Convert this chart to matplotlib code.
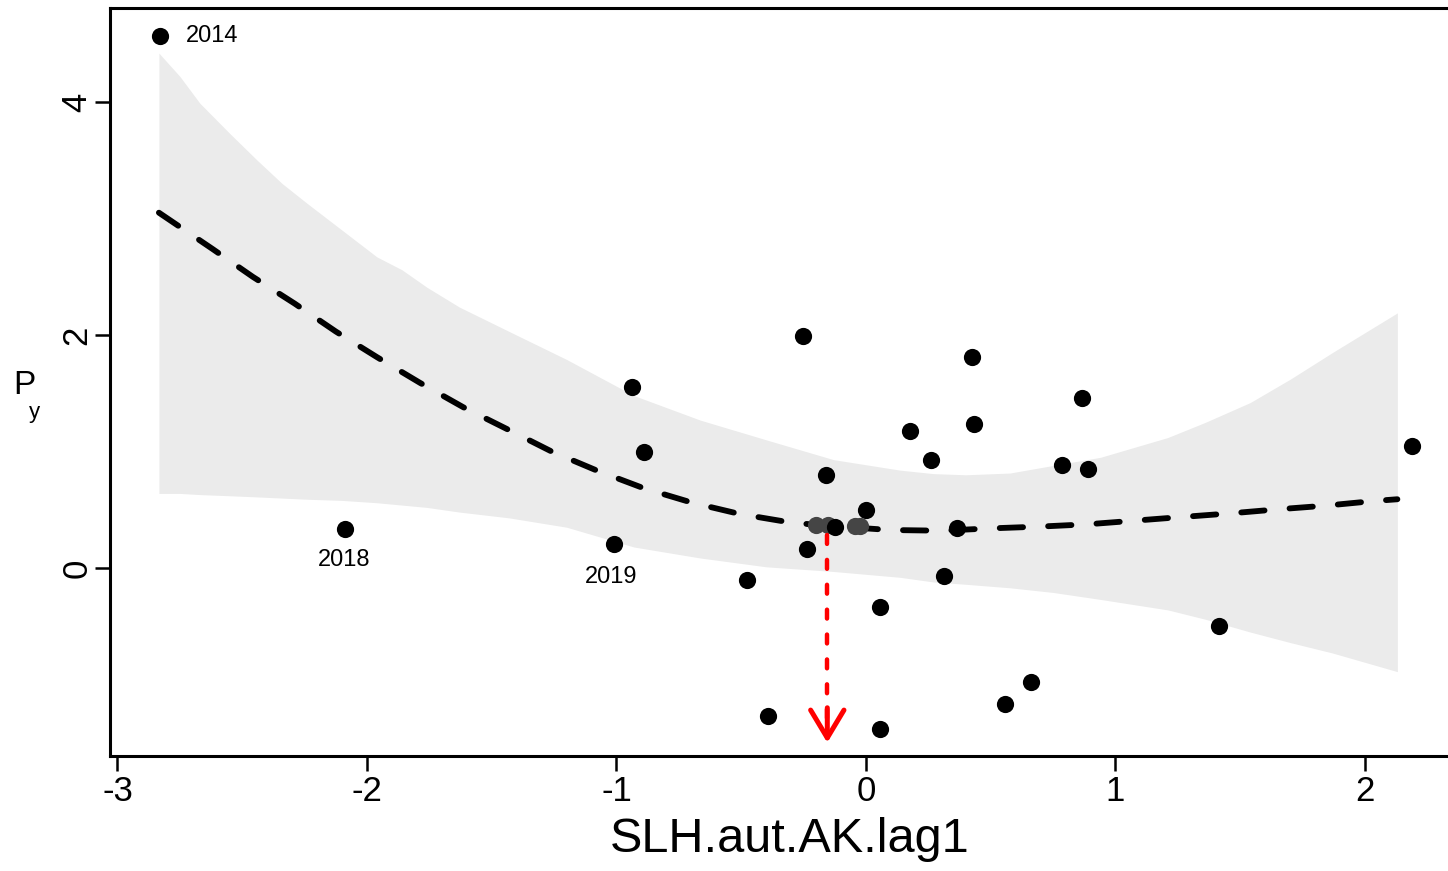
import matplotlib
matplotlib.use('Agg')
from matplotlib import pyplot as plt

plt.rcParams['font.family'] = ['Liberation Sans', 'DejaVu Sans']
plt.rcParams['axes.unicode_minus'] = False

# observed points (black)
x_obs = [-2.83, -2.09, -1.01, -0.938, -0.89, -0.477, -0.393, -0.253, -0.236, -0.16,
         -0.124, 0.0, 0.056, 0.056, 0.176, 0.26, 0.313, 0.365, 0.425, 0.433,
         0.557, 0.661, 0.786, 0.866, 0.89, 1.415, 2.19]
y_obs = [4.57, 0.335, 0.206, 1.554, 0.996, -0.103, -1.27, 1.99, 0.163, 0.80,
         0.352, 0.498, -0.335, -1.38, 1.176, 0.927, -0.069, 0.343, 1.81, 1.236,
         -1.167, -0.979, 0.884, 1.459, 0.85, -0.498, 1.047]

# points near the threshold (grey)
x_grey = [-0.20, -0.152, -0.044, -0.024]
y_grey = [0.37, 0.365, 0.36, 0.36]

# labelled years: index into x_obs, label
year_idx = [0, 1, 2]
year_lab = ['2014', '2018', '2019']

# fitted smooth
fit_x = [-2.834, -2.62, -2.458, -2.29, -2.125, -1.96, -1.788, -1.614, -1.427, -1.26,
         -1.077, -0.89, -0.696, -0.505, -0.315, -0.197, 0.096, 0.304, 0.50, 0.694,
         0.888, 1.075, 1.268, 1.462, 1.653, 1.843, 2.036, 2.13]
fit_y = [3.05, 2.74, 2.50, 2.27, 2.03, 1.81, 1.59, 1.38, 1.18, 1.00,
         0.835, 0.684, 0.56, 0.463, 0.395, 0.369, 0.326, 0.32, 0.34, 0.355,
         0.375, 0.406, 0.438, 0.469, 0.504, 0.535, 0.575, 0.59]

# confidence band
band_x = [-2.834, -2.75, -2.67, -2.55, -2.44, -2.34, -2.24, -2.10, -1.96, -1.86, -1.76,
          -1.63, -1.43, -1.20, -0.93, -0.665, -0.40, -0.13, 0.136, 0.27, 0.40, 0.577,
          0.75, 0.94, 1.21, 1.36, 1.54, 1.70, 1.87, 2.00, 2.13]
band_hi = [4.42, 4.22, 3.99, 3.73, 3.50, 3.30, 3.13, 2.90, 2.67, 2.56, 2.41,
           2.24, 2.03, 1.79, 1.48, 1.27, 1.10, 0.93, 0.84, 0.81, 0.80, 0.815,
           0.88, 0.95, 1.12, 1.25, 1.42, 1.62, 1.85, 2.02, 2.19]
band_lo = [0.64, 0.64, 0.63, 0.62, 0.61, 0.60, 0.59, 0.58, 0.56, 0.54, 0.52,
           0.48, 0.43, 0.35, 0.18, 0.086, 0.01, -0.03, -0.08, -0.12, -0.14, -0.17,
           -0.21, -0.27, -0.36, -0.44, -0.55, -0.64, -0.73, -0.81, -0.89]

# threshold arrow
threshold = -0.155
arrow_top = 0.28
arrow_bottom = -1.50

W, H = 1448, 871
fig = plt.figure(figsize=(W / 100, H / 100), dpi=100)
ax = fig.add_axes([110 / W, (H - 756) / H, (1470 - 110) / W, (756 - 8) / H])

ax.fill_between(band_x, band_lo, band_hi, color='#ebebeb', lw=0, zorder=1)
ax.plot(fit_x, fit_y, color='black', lw=4.2, dashes=(4.0, 4.3),
        dash_capstyle='round', zorder=2)

ax.plot(x_grey, y_grey, 'o', color='#454545', ms=12.4, mew=0, zorder=3)
ax.plot(x_obs, y_obs, 'o', color='black', ms=12.4, mew=0, zorder=4)

# year labels
offsets = [(18.5, 0), (0, -22), (-2, -24)]
for i, lab, off in zip(year_idx, year_lab, offsets):
    ha = 'left' if off[0] > 5 else 'center'
    ax.annotate(lab, (x_obs[i], y_obs[i]), xytext=off, textcoords='offset points',
                ha=ha, va='center', fontsize=17)

# red threshold arrow
ax.plot([threshold, threshold], [arrow_top, arrow_bottom + 0.15], color='red', lw=3.2,
        dashes=(2.0, 3.6), dash_capstyle='round', zorder=5)
ax.annotate('', xy=(threshold, arrow_bottom), xytext=(threshold, arrow_bottom + 0.3),
            arrowprops=dict(arrowstyle='->,head_length=1.0,head_width=0.6',
                            color='red', lw=3.6, capstyle='round',
                            joinstyle='round', mutation_scale=20,
                            shrinkA=0, shrinkB=0), zorder=5)

ax.set_xlim(-3.03, 2.421)
ax.set_ylim(-1.614, 4.807)
ax.set_xticks([-3, -2, -1, 0, 1, 2])
ax.set_yticks([0, 2, 4])
ax.tick_params(direction='out', length=11, width=1.8, labelsize=25)
ax.tick_params(axis='x', pad=3)
ax.tick_params(axis='y', pad=1)
for lab in ax.get_yticklabels():
    lab.set_rotation(90)
    lab.set_va('center')
for s in ax.spines.values():
    s.set_linewidth(2.2)

ax.set_xlabel('SLH.aut.AK.lag1', fontsize=35, labelpad=6)
fig.text(24 / W, 1 - 385 / H, 'P', fontsize=24, ha='center', va='center')
fig.text(34 / W, 1 - 412 / H, 'y', fontsize=16, ha='center', va='center')

fig.savefig('out.png', dpi=100)
